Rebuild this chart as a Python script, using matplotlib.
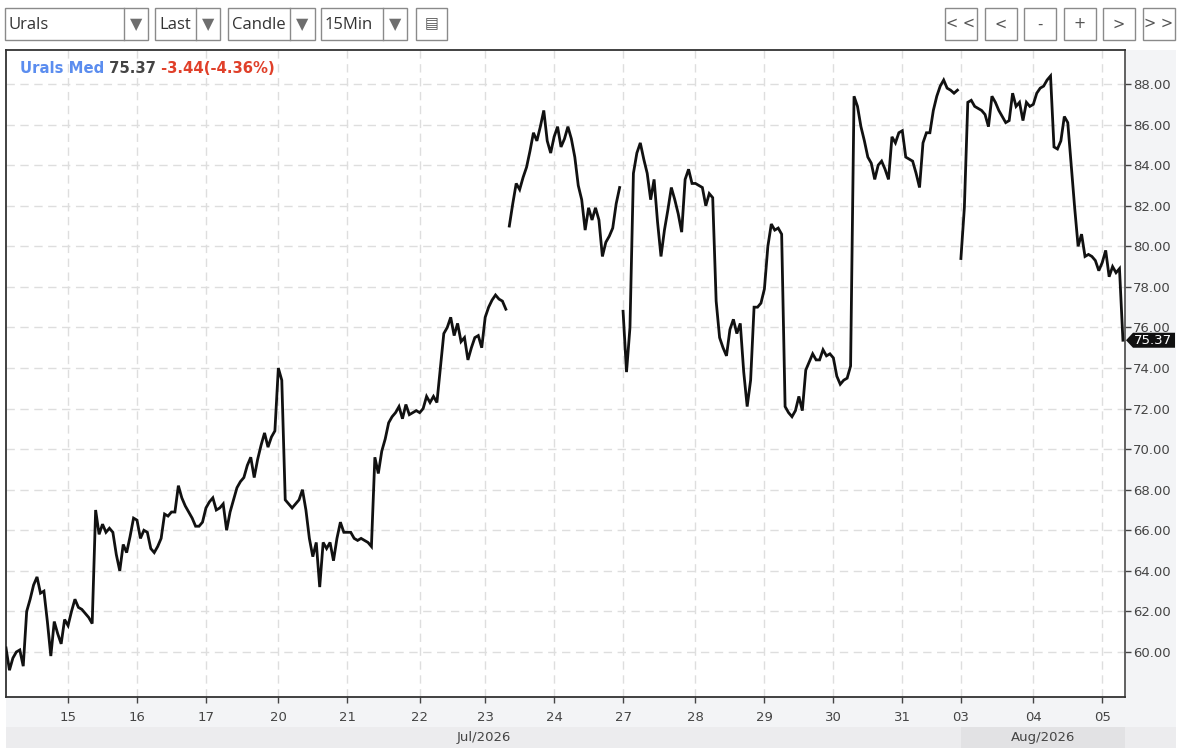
import numpy as np
import matplotlib.pyplot as plt
import matplotlib.transforms as mtransforms
from matplotlib.patches import Rectangle, Polygon

nan = np.nan

# trading days shown on the axis (first one is only partly visible)
day_labels = ["14", "15", "16", "17", "20", "21", "22", "23", "24",
              "27", "28", "29", "30", "31", "03", "04", "05"]
month_labels = ["Jul/2026", "Aug/2026"]

# 15min prices, one list per day (nan = break in the line)
day14 = [60.2, 59.1, 59.7, 60.0, 60.1, 59.3, 62.0, 62.6, 63.3, 63.7, 62.9, 63.0, 61.5, 59.8, 61.5, 60.9, 60.4, 61.6]
day15 = [61.3, 62.0, 62.6, 62.2, 62.1, 61.9, 61.7, 61.4, 67.0, 65.8, 66.3, 65.9, 66.1, 65.9, 64.8, 64.0, 65.3, 64.9, 65.7, 66.6]
day16 = [66.5, 65.6, 66.0, 65.9, 65.1, 64.9, 65.2, 65.6, 66.8, 66.7, 66.9, 66.9, 68.2, 67.6, 67.2, 66.9, 66.6, 66.2, 66.2, 66.4]
day17 = [67.1, 67.4, 67.6, 67.0, 67.1, 67.3, 66.0, 66.9, 67.5, 68.1, 68.4, 68.6, 69.2, 69.6, 68.6, 69.5, 70.2, 70.8, 70.1, 70.6, 70.9]
day20 = [74.0, 73.4, 67.5, 67.3, 67.1, 67.3, 67.5, 68.0, 67.0, 65.6, 64.7, 65.4, 63.2, 65.4, 65.1, 65.4, 64.5, 65.6, 66.4, 65.9]
day21 = [65.9, 65.9, 65.6, 65.5, 65.6, 65.5, 65.4, 65.2, 69.6, 68.8, 69.9, 70.5, 71.3, 71.6, 71.8, 72.1, 71.5, 72.2, 71.7, 71.8, 71.9]
day22 = [71.8, 72.0, 72.6, 72.3, 72.6, 72.3, 74.0, 75.7, 76.0, 76.5, 75.6, 76.2, 75.3, 75.5, 74.4, 75.0, 75.5, 75.6, 75.0]
day23 = [76.5, 77.0, 77.35, 77.6, 77.4, 77.3, 76.9, nan, 81.0, 82.1, 83.1, 82.8, 83.4, 83.9, 84.7, 85.6, 85.2, 85.9, 86.7, 85.2, 84.6]
day24 = [85.4, 85.9, 84.9, 85.3, 85.9, 85.3, 84.4, 83.0, 82.3, 80.8, 81.9, 81.3, 81.9, 81.3, 79.5, 80.2, 80.5, 80.9, 82.1, 82.9]
day27 = [nan, 76.8, 73.8, 76.0, 83.6, 84.6, 85.1, 84.3, 83.6, 82.3, 83.3, 81.2, 79.5, 80.8, 81.8, 82.9, 82.3, 81.6, 80.7, 83.3, 83.8, 83.1]
day28 = [83.1, 83.0, 82.9, 82.0, 82.6, 82.4, 77.3, 75.5, 75.0, 74.6, 75.9, 76.4, 75.7, 76.2, 73.8, 72.1, 73.4, 77.0, 77.0, 77.2]
day29 = [77.9, 80.0, 81.1, 80.8, 80.9, 80.6, 72.1, 71.8, 71.6, 71.9, 72.6, 71.9, 73.9, 74.3, 74.7, 74.4, 74.4, 74.9, 74.6, 74.7]
day30 = [74.5, 73.6, 73.2, 73.4, 73.5, 74.1, 87.4, 86.9, 85.9, 85.2, 84.4, 84.1, 83.3, 84.0, 84.2, 83.8, 83.3, 85.4, 85.1, 85.6]
day31 = [85.7, 84.4, 84.3, 84.2, 83.6, 82.9, 85.1, 85.6, 85.6, 86.7, 87.4, 87.9, 88.2, 87.8, 87.7, 87.55, 87.7]
day03 = [nan, 79.4, 81.9, 87.1, 87.2, 86.9, 86.8, 86.7, 86.5, 85.9, 87.4, 87.1, 86.7, 86.4, 86.1, 86.2, 87.55, 86.9, 87.1, 86.2, 87.1, 86.9]
day04 = [87.0, 87.55, 87.8, 87.9, 88.2, 88.4, 84.9, 84.8, 85.2, 86.4, 86.1, 84.0, 81.9, 80.0, 80.6, 79.5, 79.6, 79.5, 79.3, 78.8]
day05 = [79.2, 79.8, 78.5, 79.0, 78.7, 78.9, 75.37]

days = [day14, day15, day16, day17, day20, day21, day22, day23, day24,
        day27, day28, day29, day30, day31, day03, day04, day05]

symbol = "Urals Med"
last_price = 75.37
change = -3.44
change_pct = -4.36
yticks = [60, 62, 64, 66, 68, 70, 72, 74, 76, 78, 80, 82, 84, 86, 88]

# bar index x axis, like the trading chart (no gaps for weekends)
xs, ys, day_start = [], [], []
i = 0
for vals in days:
    day_start.append(i)
    for v in vals:
        xs.append(i)
        ys.append(v)
        if not np.isnan(v):
            i += 1
xs = np.array(xs, dtype=float)
ys = np.array(ys, dtype=float)
x_right = i - 0.4
x_left = 0.0

W, H = 1183, 748
fig = plt.figure(figsize=(W / 100, H / 100), dpi=100)
fig.patch.set_facecolor("white")

def px_rect(x0, y0, x1, y1, z=-5, **kw):
    # rectangle in pixel coords (top-left origin)
    fig.patches.append(Rectangle((x0 / W, 1 - y1 / H), (x1 - x0) / W, (y1 - y0) / H,
                                 transform=fig.transFigure, figure=fig, zorder=z, **kw))

# gray panels around the plot
px_rect(1125, 50, 1176, 697, facecolor="#f3f4f6", edgecolor="none")
px_rect(6, 697, 1176, 727, facecolor="#f3f4f6", edgecolor="none")
px_rect(6, 727, 1176, 748, facecolor="#ececee", edgecolor="none")

ax = fig.add_axes([6 / W, (H - 697) / H, (1125 - 6) / W, (697 - 50) / H])
ax.set_zorder(2)
ax.set_facecolor("white")
ax.plot(xs, ys, color="#111111", lw=2.0, solid_joinstyle="miter", zorder=3)

ax.set_xlim(x_left, x_right)
ax.set_ylim(57.78, 89.68)

ticks = day_start[1:]
ax.set_xticks(ticks)
ax.set_xticklabels(day_labels[1:])
ax.set_yticks(yticks)
ax.set_yticklabels([f"{v:.2f}" for v in yticks])
ax.yaxis.tick_right()
ax.tick_params(axis="both", colors="#444444", labelsize=9.5, length=4, width=1)
ax.tick_params(axis="x", pad=6)
ax.tick_params(axis="y", pad=2)
for lab in ax.get_xticklabels() + ax.get_yticklabels():
    lab.set_color("#444444")

ax.grid(True, color="#dedede", lw=1, linestyle=(0, (6, 4)))
ax.set_axisbelow(True)
for side in ["top", "left", "bottom"]:
    ax.spines[side].set_color("#333333")
    ax.spines[side].set_linewidth(1.3)
ax.spines["right"].set_color("#555555")
ax.spines["right"].set_linewidth(1.3)

# month band labels
blend = mtransforms.blended_transform_factory(ax.transData, fig.transFigure)
aug_start = day_start[day_labels.index("03")]
fig.patches.append(Rectangle((aug_start, 0), x_right - aug_start, 21 / H, transform=blend,
                             figure=fig, facecolor="#e2e2e4", edgecolor="none", zorder=-4))
fig.text((x_left + aug_start) / 2, 10.5 / H, month_labels[0], transform=blend,
         ha="center", va="center", fontsize=9.5, color="#444444")
fig.text((aug_start + x_right) / 2, 10.5 / H, month_labels[1], transform=blend,
         ha="center", va="center", fontsize=9.5, color="#444444")

# last price tag: small black pointer box on the price axis
yblend = mtransforms.blended_transform_factory(ax.transAxes, ax.transData)
tag_tr = mtransforms.Affine2D() + mtransforms.ScaledTranslation(1.0, last_price, yblend)
tag = Polygon([(1, 0), (8, 7.5), (50, 7.5), (50, -7.5), (8, -7.5)], closed=True,
              transform=tag_tr, facecolor="#111111", edgecolor="none", clip_on=False, zorder=6)
ax.add_patch(tag)
ax.annotate(f"{last_price:.2f}", xy=(1.0, last_price), xycoords=yblend,
            xytext=(8.5, 0), textcoords="offset pixels", ha="left", va="center",
            fontsize=9.5, color="white", annotation_clip=False, zorder=7)

# header line
t1 = ax.text(0.0125, 0.972, symbol, transform=ax.transAxes, fontsize=10.7, fontweight="bold",
             color="#5b8def", va="center", ha="left")
t2 = ax.annotate(f" {last_price:.2f}", xy=(1, 0), xycoords=t1, fontsize=10.7, fontweight="bold",
                 color="#444444", va="bottom", ha="left")
t3 = ax.annotate(f" {change:.2f}({change_pct:.2f}%)", xy=(1, 0), xycoords=t2, fontsize=10.7,
                 fontweight="bold", color="#e0402a", va="bottom", ha="left")

# toolbar
def box(x0, x1, label, split=None):
    px_rect(x0, 8, x1, 40, z=1, facecolor="white", edgecolor="#8a8a8a", lw=1)
    if split is not None:
        fig.lines.append(plt.Line2D([split / W, split / W], [1 - 8 / H, 1 - 40 / H],
                                    transform=fig.transFigure, color="#8a8a8a", lw=1))
        fig.text((split + x1) / 2 / W, 1 - 25 / H, "\u25bc", ha="center", va="center",
                 fontsize=11.5, color="#6e6e6e")
        fig.text((x0 + 4) / W, 1 - 25 / H, label, ha="left", va="center",
                 fontsize=12, color="#333333", family="Open Sans")
    else:
        fig.text((x0 + x1) / 2 / W, 1 - 24 / H, label, ha="center", va="center",
                 fontsize=10.5, color="#555555")

box(5, 148, "Urals", 124)
box(155, 220, "Last", 196)
box(228, 315, "Candle", 290)
box(321, 407, "15Min", 383)
box(416, 447, "\u25a4")
for x0, lab in zip([945, 985, 1024, 1064, 1103, 1143], ["< <", "<", "-", "+", ">", "> >"]):
    box(x0, x0 + 32, lab)

fig.savefig("out.png", dpi=100)
